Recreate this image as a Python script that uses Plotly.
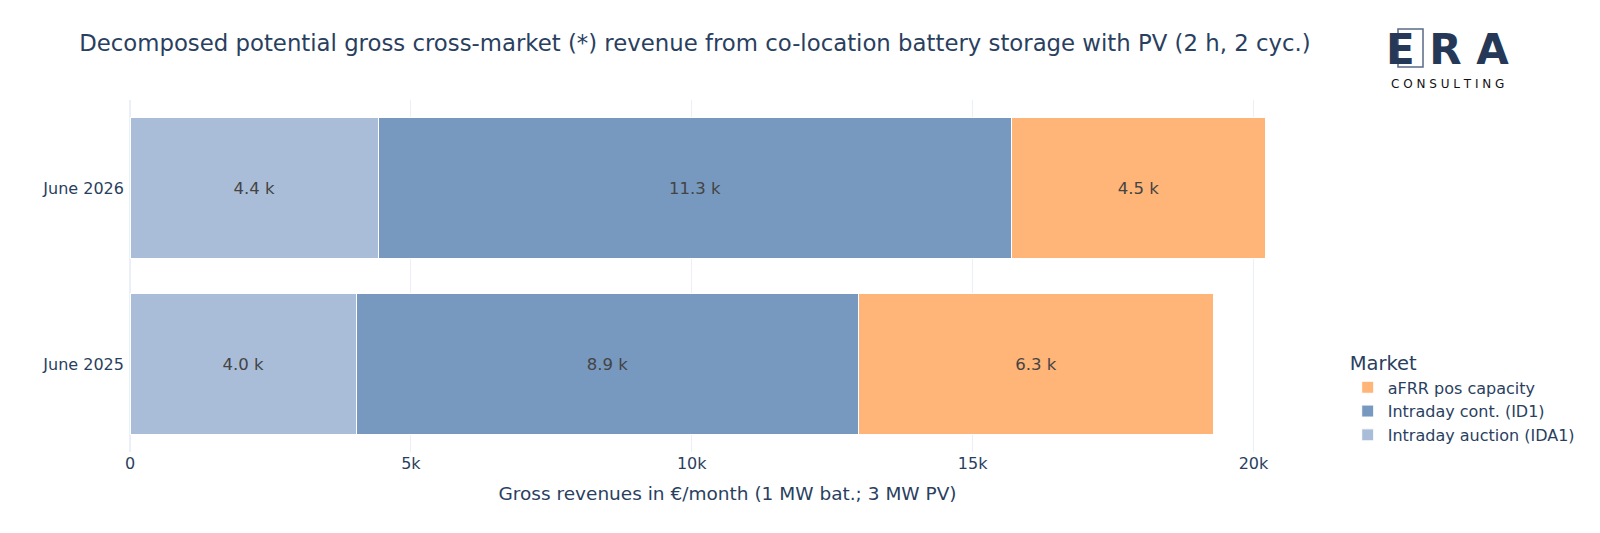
import plotly.graph_objects as go

categories = ["June 2025", "June 2026"]
series_names = ["Intraday auction (IDA1)", "Intraday cont. (ID1)", "aFRR pos capacity"]
ida1 = [4035, 4420]
id1 = [8930, 11280]
afrr = [6330, 4510]
colors = ["#AABDD8", "#7799C0", "#FFB478"]

FONT = "Verdana, DejaVu Sans, sans-serif"

fig = go.Figure()
for name, vals, col in zip(series_names, [ida1, id1, afrr], colors):
    fig.add_trace(go.Bar(
        y=categories, x=vals, name=name, orientation="h",
        marker=dict(color=col, line=dict(color="white", width=1)),
        text=[f"{v/1000:.1f} k" for v in vals],
        textposition="inside", insidetextanchor="middle",
        textfont=dict(color="#444444", size=16.5, family=FONT),
        hoverinfo="skip",
    ))

fig.update_layout(
    template="plotly_white",
    barmode="stack",
    width=1600, height=533,
    margin=dict(l=130, r=275, t=100, b=81),
    font=dict(family=FONT, color="#2a3f5f", size=16),
    title=dict(text="Decomposed potential gross cross-market (*) revenue from co-location battery storage with PV (2 h, 2 cyc.)",
               x=0.0495, xanchor="left", y=0.92, yanchor="middle",
               font=dict(size=22.8, family=FONT, color="#2a3f5f")),
    legend=dict(title=dict(text="Market", font=dict(size=19.5)), x=1.019, xanchor="left",
                y=0, yanchor="bottom", font=dict(size=16), tracegroupgap=0),
    xaxis=dict(title=dict(text="Gross revenues in €/month (1 MW bat.; 3 MW PV)", font=dict(size=18.5)),
               tickvals=[0, 5000, 10000, 15000, 20000], ticktext=["0", "5k", "10k", "15k", "20k"],
               showgrid=True, zeroline=True),
    yaxis=dict(ticksuffix=" "),
)

# ERA Consulting logo
fig.add_shape(type="rect", xref="paper", yref="paper",
              x0=(1398-130)/1195, x1=(1423-130)/1195, y0=(452-67)/352, y1=(452-29)/352,
              line=dict(color="#5a6a85", width=1.5), fillcolor="rgba(0,0,0,0)")
fig.add_annotation(text="<b>E R A</b>", xref="paper", yref="paper",
                   x=(1447-130)/1195, y=(452-50)/352, xanchor="center", yanchor="middle",
                   showarrow=False, font=dict(size=42, color="#253858", family="DejaVu Sans, sans-serif"))
fig.add_annotation(text="C O N S U L T I N G", xref="paper", yref="paper",
                   x=(1447-130)/1195, y=(452-84)/352, xanchor="center", yanchor="middle",
                   showarrow=False, font=dict(size=12, color="#111111", family="DejaVu Sans, sans-serif"))

fig.write_html("out.html")
